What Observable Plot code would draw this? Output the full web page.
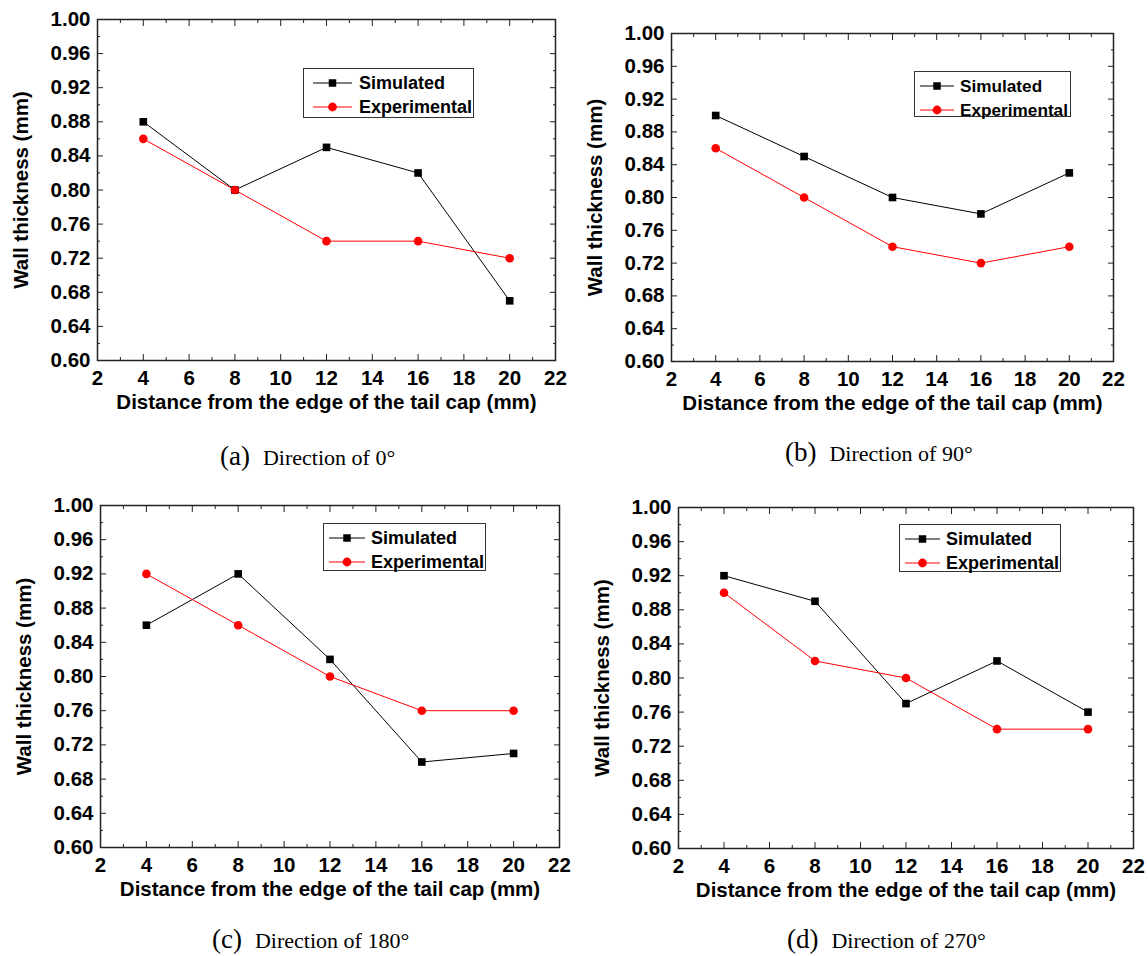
<!DOCTYPE html>
<html><head><meta charset="utf-8">
<script src="https://cdn.jsdelivr.net/npm/d3@7"></script>
<script src="https://cdn.jsdelivr.net/npm/@observablehq/plot@0.6"></script>
<style>
body{margin:0;background:#fff;}
#root{position:relative;width:1148px;height:956px;overflow:hidden;background:#fff;}
.panel{position:absolute;}
.legend{position:absolute;border:1.5px solid #333;box-sizing:border-box;background:#fff;
  font-family:"Liberation Sans",Arial,sans-serif;font-weight:bold;color:#000;}
.legend .row{display:flex;align-items:center;height:24px;white-space:nowrap;}
.legend svg{display:block;flex:none;}
#caps{position:absolute;left:0;top:0;pointer-events:none;}
</style></head><body><div id="root"></div>
<script>
// ---- data ----
const distance = [4, 8, 12, 16, 20];
const seriesNames = ["Simulated", "Experimental"];
const simulated0   = [0.88, 0.80, 0.85, 0.82, 0.67];
const experimental0 = [0.86, 0.80, 0.74, 0.74, 0.72];
const simulated90   = [0.90, 0.85, 0.80, 0.78, 0.83];
const experimental90 = [0.86, 0.80, 0.74, 0.72, 0.74];
const simulated180   = [0.86, 0.92, 0.82, 0.70, 0.71];
const experimental180 = [0.92, 0.86, 0.80, 0.76, 0.76];
const simulated270   = [0.92, 0.89, 0.77, 0.82, 0.76];
const experimental270 = [0.90, 0.82, 0.80, 0.74, 0.74];
const xTicks = [2, 4, 6, 8, 10, 12, 14, 16, 18, 20, 22];
const xMinorTicks = [3, 5, 7, 9, 11, 13, 15, 17, 19, 21];
const yTicks = [0.60, 0.64, 0.68, 0.72, 0.76, 0.80, 0.84, 0.88, 0.92, 0.96, 1.00];
const yMinorTicks = [0.62, 0.66, 0.70, 0.74, 0.78, 0.82, 0.86, 0.90, 0.94, 0.98];
const panelLetters = ["(a)", "(b)", "(c)", "(d)"];
const panelTitles = ["Direction of 0°", "Direction of 90°", "Direction of 180°", "Direction of 270°"];
const xLabel = "Distance from the edge of the tail cap (mm)";
const yLabel = "Wall thickness (mm)";
const seriesColors = ["#000000", "#ff0000"];
const seriesSymbols = ["square", "circle"];

// ---- layout (positions / sizes only) ----
const layout = [
  {left:0,   top:0,   width:574, height:420, ml:97,  mr:19, mt:19, mb:60,
   legend:{x:303, y:68,  w:171, h:50, padL:9, sample:39, gap:7, font:18},
   cap:{x:220, y:465}},
  {left:574, top:0,   width:574, height:420, ml:97,  mr:35, mt:33, mb:59,
   legend:{x:914, y:71,  w:157, h:46, padL:5, sample:34, gap:6, font:17.2},
   cap:{x:785, y:461}},
  {left:0,   top:480, width:574, height:420, ml:100, mr:15, mt:25, mb:53,
   legend:{x:323, y:523, w:163, h:48, padL:5, sample:36, gap:6, font:18},
   cap:{x:212, y:948}},
  {left:574, top:480, width:574, height:420, ml:104, mr:15, mt:27, mb:52,
   legend:{x:899, y:524, w:162, h:48, padL:5, sample:35, gap:6, font:18},
   cap:{x:787, y:948}}
];
const seriesSets = [
  [simulated0, experimental0],
  [simulated90, experimental90],
  [simulated180, experimental180],
  [simulated270, experimental270]
];

const root = document.getElementById("root");
const fontStack = '"Liberation Sans", Arial, sans-serif';

seriesSets.forEach(([sim, exp], i) => {
  const L = layout[i];
  const rows = [];
  seriesNames.forEach((s, k) => {
    const vals = k === 0 ? sim : exp;
    distance.forEach((d, j) => rows.push({distance: d, thickness: vals[j], series: s}));
  });
  const blank = () => "";
  const chart = Plot.plot({
    width: L.width, height: L.height,
    marginLeft: L.ml, marginRight: L.mr, marginTop: L.mt, marginBottom: L.mb,
    x: {domain: [2, 22]},
    y: {domain: [0.6, 1.0]},
    color: {domain: seriesNames, range: seriesColors},
    symbol: {domain: seriesNames, range: seriesSymbols},
    style: {fontFamily: fontStack, fontSize: "20.5px", fontWeight: "bold", color: "#000",
            background: "none", overflow: "visible"},
    marks: [
      Plot.axisX(xTicks, {anchor: "bottom", tickSize: -6, tickPadding: 16, tickFormat: d => String(d),
        label: xLabel, labelAnchor: "center", labelOffset: 48, labelArrow: "none", stroke: "#222"}),
      Plot.axisX(xMinorTicks, {anchor: "bottom", tickSize: -3, tickFormat: blank, label: null, stroke: "#222"}),
      Plot.axisX(xTicks, {anchor: "top", tickSize: -6, tickFormat: blank, label: null, stroke: "#222"}),
      Plot.axisX(xMinorTicks, {anchor: "top", tickSize: -3, tickFormat: blank, label: null, stroke: "#222"}),
      Plot.axisY(yTicks, {anchor: "left", tickSize: -6, tickPadding: 13, tickFormat: d3.format(".2f"),
        label: yLabel, labelAnchor: "center", labelOffset: 84, labelArrow: "none", stroke: "#222"}),
      Plot.axisY(yMinorTicks, {anchor: "left", tickSize: -3, tickFormat: blank, label: null, stroke: "#222"}),
      Plot.axisY(yTicks, {anchor: "right", tickSize: -6, tickFormat: blank, label: null, stroke: "#222"}),
      Plot.axisY(yMinorTicks, {anchor: "right", tickSize: -3, tickFormat: blank, label: null, stroke: "#222"}),
      Plot.line(rows, {x: "distance", y: "thickness", z: "series", stroke: "series", strokeWidth: 1}),
      Plot.dot(rows, {x: "distance", y: "thickness", fill: "series", symbol: "series", r: 4.3}),
      Plot.frame({stroke: "#222", strokeWidth: 1.5})
    ]
  });
  chart.classList.add("panel");
  chart.style.left = L.left + "px";
  chart.style.top = L.top + "px";
  root.appendChild(chart);

  // legend
  const g = L.legend;
  const lg = document.createElement("div");
  lg.className = "legend";
  Object.assign(lg.style, {left: g.x + "px", top: g.y + "px", width: g.w + "px", height: g.h + "px",
    paddingTop: "2px", paddingLeft: g.padL + "px", fontSize: g.font + "px"});
  seriesNames.forEach((s, k) => {
    const row = document.createElement("div");
    row.className = "row";
    const w = g.sample, c = seriesColors[k];
    const sym = seriesSymbols[k] === "square"
      ? `<rect x="${w/2-3.75}" y="${6-3.75}" width="7.5" height="7.5" fill="${c}"/>`
      : `<circle cx="${w/2}" cy="6" r="4.4" fill="${c}"/>`;
    row.innerHTML = `<svg width="${w}" height="12"><line x1="0" x2="${w}" y1="6" y2="6" stroke="${c}" stroke-width="1"/>${sym}</svg><span style="margin-left:${g.gap}px">${s}</span>`;
    lg.appendChild(row);
  });
  root.appendChild(lg);
});

// captions
const ns = "http://www.w3.org/2000/svg";
const caps = document.createElementNS(ns, "svg");
caps.setAttribute("id", "caps");
caps.setAttribute("width", 1148);
caps.setAttribute("height", 956);
layout.forEach((L, i) => {
  const t = document.createElementNS(ns, "text");
  t.setAttribute("x", L.cap.x);
  t.setAttribute("y", L.cap.y);
  t.setAttribute("font-family", '"Liberation Serif", "Times New Roman", serif');
  t.setAttribute("fill", "#000");
  const a = document.createElementNS(ns, "tspan");
  a.setAttribute("font-size", 27);
  a.textContent = panelLetters[i];
  const b = document.createElementNS(ns, "tspan");
  b.setAttribute("font-size", 22);
  b.setAttribute("dx", 13);
  b.textContent = panelTitles[i];
  t.appendChild(a); t.appendChild(b);
  caps.appendChild(t);
});
root.appendChild(caps);
</script></body></html>
